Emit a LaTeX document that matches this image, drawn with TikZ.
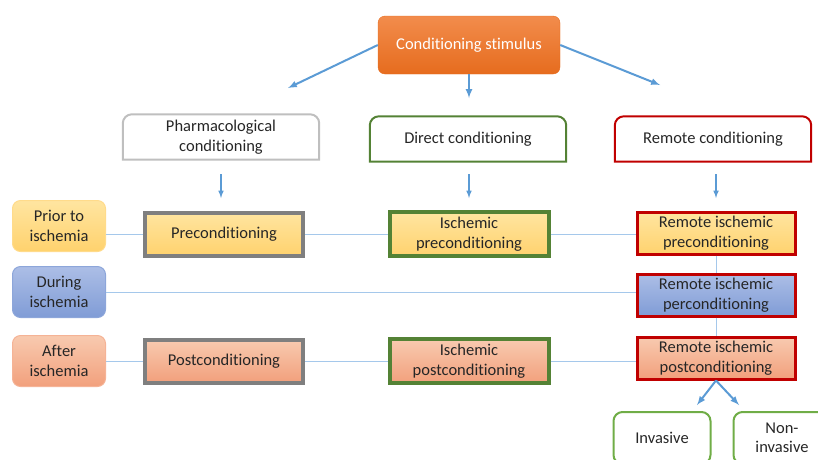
\documentclass[tikz,border=0pt]{standalone}
\usepackage{fontspec}
\setmainfont[Ligatures=NoCommon]{Carlito}
\usetikzlibrary{arrows}

\definecolor{txt}{RGB}{38,38,38}
\definecolor{arrblue}{RGB}{91,155,213}
\definecolor{lnblue}{RGB}{165,200,235}
\definecolor{stimtop}{RGB}{242,140,76}
\definecolor{stimbot}{RGB}{230,108,30}
\definecolor{pretop}{RGB}{255,229,160}
\definecolor{prebot}{RGB}{255,210,110}
\definecolor{pertop}{RGB}{172,190,230}
\definecolor{perbot}{RGB}{128,156,214}
\definecolor{posttop}{RGB}{248,202,176}
\definecolor{postbot}{RGB}{242,160,124}
\definecolor{phgray}{RGB}{191,191,191}
\definecolor{thkgray}{RGB}{127,127,127}
\definecolor{dkgreen}{RGB}{84,130,53}
\definecolor{ltgreen}{RGB}{112,173,71}
\definecolor{remred}{RGB}{192,0,0}

\begin{document}
\begin{tikzpicture}[x=1pt,y=-1pt]
	\tikzstyle{every node}=[font=\fontsize{16.5}{19.5}\selectfont, text=txt, align=center, inner sep=0pt]
	\tikzstyle{arr}=[draw=arrblue, line width=2pt, -latex]
	\tikzstyle{link}=[draw=lnblue, line width=1pt]
	\tikzstyle{prefill}=[top color=pretop, bottom color=prebot]
	\tikzstyle{perfill}=[top color=pertop, bottom color=perbot]
	\tikzstyle{postfill}=[top color=posttop, bottom color=postbot]
	\tikzstyle{stimbox}=[rounded corners=7pt, top color=stimtop, bottom color=stimbot, draw=stimbot, text=white, minimum width=182pt, minimum height=58pt]
	\tikzstyle{catbox}=[minimum width=196pt, minimum height=45pt]
	\tikzstyle{timebox}=[rounded corners=8pt, line width=1pt, minimum width=93pt, minimum height=51pt]
	\tikzstyle{pharmbox}=[draw=thkgray, line width=4pt, minimum width=158pt, minimum height=43pt]
	\tikzstyle{ischbox}=[draw=dkgreen, line width=4pt, minimum width=159pt, minimum height=44pt]
	\tikzstyle{rembox}=[draw=remred, line width=3pt, minimum width=158pt, minimum height=42pt]
	\tikzstyle{invbox}=[draw=ltgreen, line width=2pt, rounded corners=9pt, minimum width=97pt, minimum height=52pt]
	\useasboundingbox (0,0) rectangle (818,459);
	\clip (0,0) rectangle (818,459);
	\node[stimbox] (stim) at (469,45) {Conditioning stimulus};
	\node[catbox] (pharm) at (221,137) {Pharmacological\\conditioning};
	\node[catbox] (direct) at (468,139) {Direct conditioning};
	\node[catbox] (remote) at (713,139) {Remote conditioning};
	\foreach \n/\c in {pharm/phgray,direct/dkgreen,remote/remred}
		\draw[line width=2pt, draw=\c] (\n.south west) [rounded corners=9pt] -- (\n.north west) -- (\n.north east) [sharp corners] -- (\n.south east) -- cycle;
	\node[timebox, prefill, draw=prebot!80!white] (prior) at (59,226) {Prior to\\ischemia};
	\node[timebox, perfill, draw=perbot!90!white] (during) at (59,292) {During\\ischemia};
	\node[timebox, postfill, draw=postbot!80!white] (after) at (59,361) {After\\ischemia};
	\node[pharmbox, prefill] (precond) at (224,234) {Preconditioning};
	\node[pharmbox, postfill] (postcond) at (224,361) {Postconditioning};
	\node[ischbox, prefill] (ipre) at (469,234) {Ischemic\\preconditioning};
	\node[ischbox, postfill] (ipost) at (469,361) {Ischemic\\postconditioning};
	\node[rembox, prefill] (rpre) at (716,233) {Remote ischemic\\preconditioning};
	\node[rembox, perfill] (rper) at (716,295) {Remote ischemic\\perconditioning};
	\node[rembox, postfill] (rpost) at (716,358) {Remote ischemic\\postconditioning};
	\node[invbox] (inv) at (662,438) {Invasive};
	\node[invbox] (noninv) at (782,438) {Non-\\invasive};
	\coordinate (a1) at (288,88);
	\coordinate (a2) at (469,98);
	\coordinate (a3) at (660,85);
	\draw[arr] (stim.west) -- (a1);
	\draw[arr] (stim.south) -- (a2);
	\draw[arr] (stim.east) -- (a3);
	\foreach \x/\n in {221/1,469/2,716/3} {
		\coordinate (s\n) at (\x,174);
		\coordinate (e\n) at (\x,198);
		\draw[arr, line width=1.5pt] (s\n) -- (e\n);
	}
	\coordinate (b1) at (697,405);
	\coordinate (b2) at (739,405);
	\draw[arr] (rpost.south) -- (b1);
	\draw[arr] (rpost.south) -- (b2);
	\draw[link] (prior.east |- precond.west) -- (precond.west);
	\draw[link] (precond) -- (ipre);
	\draw[link] (ipre.east) -- (ipre.east -| rpre.west);
	\draw[link] (during.east) -- (during.east -| rper.west);
	\draw[link] (after) -- (postcond);
	\draw[link] (postcond) -- (ipost);
	\draw[link] (ipost.east) -- (ipost.east -| rpost.west);
	\draw[link] (rpre) -- (rper);
	\draw[link] (rper) -- (rpost);
\end{tikzpicture}
\end{document}
